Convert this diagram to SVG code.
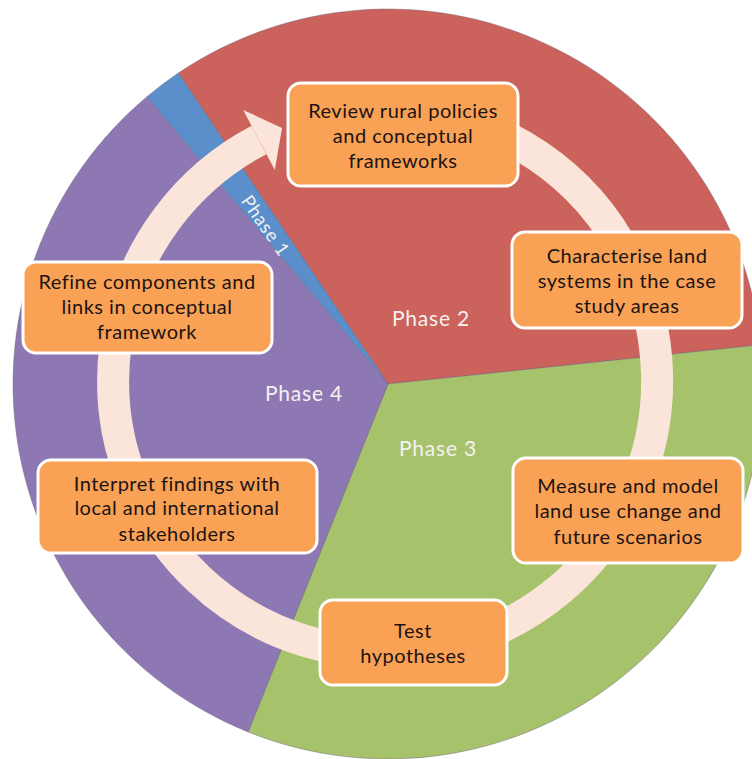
<svg xmlns="http://www.w3.org/2000/svg" width="752" height="759" viewBox="0 0 752 759">
<style>
.slice{stroke:#6e5f78;stroke-opacity:0.45;stroke-width:1}
.box{fill:#F9A155;stroke:#FFFFFF;stroke-width:3}
.t{font-family:Lato,"Open Sans","Liberation Sans",sans-serif;font-size:20px;letter-spacing:0.5px;fill:#1c1414;text-anchor:middle}
.ph{font-family:Lato,"Open Sans","Liberation Sans",sans-serif;font-size:21px;letter-spacing:0.8px;fill:#F6F1F1;text-anchor:middle}
.ring{fill:none;stroke:#FBE4D9;stroke-width:32}
</style>
<rect width="752" height="759" fill="#FFFFFF"/>
<g id="pie">
<path class="slice" fill="#CB625B" d="M388,384 L178.3,73.1 A375,375 0 0 1 760.9,344.8 Z"/>
<path class="slice" fill="#A6C36B" d="M388,384 L760.9,344.8 A375,375 0 0 1 248.1,731.9 Z"/>
<path class="slice" fill="#8E78B3" d="M388,384 L248.1,731.9 A375,375 0 0 1 147.0,96.7 Z"/>
<path class="slice" fill="#5A8FCB" d="M388,384 L147.0,96.7 A375,375 0 0 1 178.3,73.1 Z"/>
<text class="ph" x="431" y="326">Phase 2</text>
<text class="ph" x="438" y="456">Phase 3</text>
<text class="ph" x="304" y="401">Phase 4</text>
<text class="ph" style="font-size:18.5px" transform="translate(265,226) rotate(55)" x="0" y="6">Phase 1</text>
</g>
<g id="connectors">
<path class="ring" d="M408.7,110 A272,272 0 1 1 259,140"/>
<polygon fill="#FBE4D9" points="243.2,109.9 282,128 274.8,170.1"/>
</g>
<g id="n1">
<rect class="box" x="288" y="83" width="230" height="103" rx="13"/>
<text class="t" x="403" y="118">Review rural policies</text>
<text class="t" x="403" y="143">and conceptual</text>
<text class="t" x="403" y="168">frameworks</text>
</g>
<g id="n2">
<rect class="box" x="512" y="232" width="230" height="96" rx="13"/>
<text class="t" x="627" y="263">Characterise land</text>
<text class="t" x="627" y="288">systems in the case</text>
<text class="t" x="627" y="313">study areas</text>
</g>
<g id="n3">
<rect class="box" x="513" y="458" width="230" height="105" rx="13"/>
<text class="t" x="628" y="493">Measure and model</text>
<text class="t" x="628" y="518">land use change and</text>
<text class="t" x="628" y="544">future scenarios</text>
</g>
<g id="n4">
<rect class="box" x="320" y="600" width="187" height="85" rx="13"/>
<text class="t" x="413" y="638">Test</text>
<text class="t" x="413" y="663">hypotheses</text>
</g>
<g id="n5">
<rect class="box" x="38" y="460" width="279" height="93" rx="13"/>
<text class="t" x="177" y="491">Interpret findings with</text>
<text class="t" x="177" y="515">local and international</text>
<text class="t" x="177" y="541">stakeholders</text>
</g>
<g id="n6">
<rect class="box" x="23" y="262" width="249" height="91" rx="13"/>
<text class="t" x="147" y="289">Refine components and</text>
<text class="t" x="147" y="314">links in conceptual</text>
<text class="t" x="147" y="339">framework</text>
</g>
</svg>
